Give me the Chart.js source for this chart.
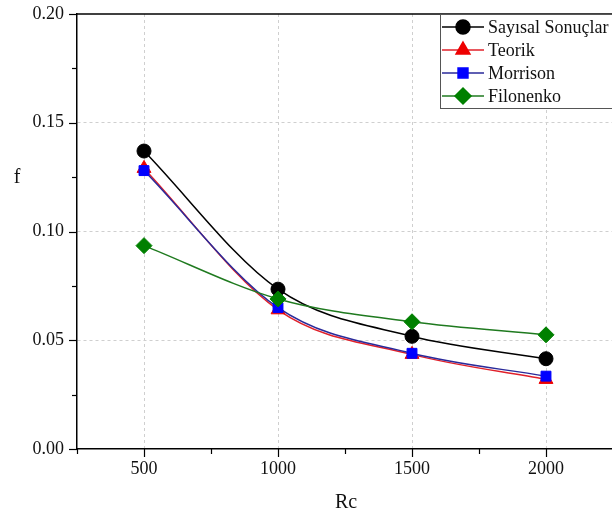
<!DOCTYPE html>
<html>
<head>
<meta charset="utf-8">
<script src="https://cdn.jsdelivr.net/npm/chart.js@4.4.1/dist/chart.umd.min.js"></script>
<style>
    html, body { margin: 0; padding: 0; background: #fff; overflow: hidden; }
    #wrap { width: 612px; height: 515px; overflow: hidden; }
</style>
</head>
<body>
<div id="wrap"><canvas id="fChart" width="622" height="515"></canvas></div>
<script>
    // Reynolds numbers on the x axis
    var reValues = [500, 1000, 1500, 2000];

    // friction factor f for each source
    var sayisal = [0.137, 0.0735, 0.0518, 0.0415];
    var teorik = [0.129, 0.064, 0.0435, 0.032];
    var morrison = [0.128, 0.065, 0.044, 0.0335];
    var filonenko = [0.0935, 0.069, 0.0585, 0.0525];

    var yTickLabels = ['0.00', '0.05', '0.10', '0.15', '0.20'];
    var xTickLabels = ['500', '1000', '1500', '2000'];

    var serif = '"Liberation Serif", "Times New Roman", serif';

    function pts(vals) {
        return vals.map((v, i) => ({ x: reValues[i], y: v }));
    }

    function isMajor(v, step) {
        return Math.abs(v / step - Math.round(v / step)) < 1e-6;
    }

    // frame, tick marks, axis titles and the boxed legend
    var decorPlugin = {
        id: 'decor',
        afterDraw(chart) {
            var ctx = chart.ctx;
            var a = chart.chartArea;
            var xs = chart.scales.x, ys = chart.scales.y;
            ctx.save();
            ctx.strokeStyle = '#000';
            ctx.lineWidth = 1.5;
            ctx.beginPath();
            ctx.moveTo(a.left, a.top);
            ctx.lineTo(a.right, a.top);
            ctx.stroke();

            ctx.lineWidth = 1.2;
            for (var v = 0; v <= 0.2001; v += 0.025) {
                var y = Math.round(ys.getPixelForValue(v)) + 0.5;
                var len = isMajor(v, 0.05) ? 8 : 5;
                ctx.beginPath();
                ctx.moveTo(a.left - len, y);
                ctx.lineTo(a.left, y);
                ctx.stroke();
            }
            for (var r = 250; r <= 2250; r += 250) {
                var x = Math.round(xs.getPixelForValue(r)) + 0.5;
                var l2 = isMajor(r, 500) ? 8 : 5;
                ctx.beginPath();
                ctx.moveTo(x, a.bottom);
                ctx.lineTo(x, a.bottom + l2);
                ctx.stroke();
            }

            ctx.fillStyle = '#111';
            ctx.font = '20px ' + serif;
            ctx.textAlign = 'center';
            ctx.textBaseline = 'middle';
            ctx.fillText('f', 17, 178);
            ctx.fillText('Rc', 346, 503);

            // legend box
            var bx = 440, by = 14, bw = 200, bh = 94;
            ctx.fillStyle = '#fff';
            ctx.fillRect(bx, by, bw, bh);
            ctx.strokeStyle = '#555';
            ctx.lineWidth = 1;
            ctx.strokeRect(bx + 0.5, by + 0.5, bw, bh);
            var rows = [27, 50, 73, 96];
            chart.data.datasets.forEach((ds, i) => {
                var y = rows[i];
                ctx.strokeStyle = ds.borderColor;
                ctx.lineWidth = 1.5;
                ctx.beginPath();
                ctx.moveTo(bx + 2, y);
                ctx.lineTo(bx + 44, y);
                ctx.stroke();
                ctx.fillStyle = ds.pointBackgroundColor;
                ctx.strokeStyle = ds.pointBackgroundColor;
                Chart.helpers.drawPoint(ctx, {
                    pointStyle: ds.pointStyle,
                    radius: ds.pointRadius,
                    rotation: 0,
                    borderWidth: 1
                }, bx + 23, y);
                ctx.fillStyle = '#111';
                ctx.font = '18px ' + serif;
                ctx.textAlign = 'left';
                ctx.fillText(ds.label, bx + 48, y + 1);
            });
            ctx.restore();
        }
    };

    function series(label, data, line, fill, style, radius, order) {
        return {
            label: label,
            data: pts(data),
            borderColor: line,
            borderWidth: 1.5,
            backgroundColor: fill,
            pointBackgroundColor: fill,
            pointBorderColor: fill,
            pointBorderWidth: 1,
            pointStyle: style,
            pointRadius: radius,
            tension: 0.4,
            cubicInterpolationMode: 'monotone',
            order: order
        };
    }

    new Chart(document.getElementById('fChart').getContext('2d'), {
        type: 'line',
        data: {
            datasets: [
                series('Sayısal Sonuçlar', sayisal, '#000000', '#000000', 'circle', 7, 2),
                series('Teorik', teorik, '#e0202a', '#ee0000', 'triangle', 8, 4),
                series('Morrison', morrison, '#2a2a9a', '#0000ff', 'rect', 7, 3),
                series('Filonenko', filonenko, '#1f7a1f', '#008000', 'rectRot', 8, 1)
            ]
        },
        options: {
            responsive: false,
            animation: false,
            layout: { padding: { top: 14, right: 6, left: 0, bottom: 0 } },
            plugins: { legend: { display: false }, tooltip: { enabled: false } },
            scales: {
                x: {
                    type: 'linear',
                    min: 250,
                    max: 2250,
                    afterFit(scale) {
                        scale.height = 66;
                        scale.paddingLeft = 0;
                        scale.paddingRight = 0;
                    },
                    afterBuildTicks(scale) {
                        scale.ticks = xTickLabels.map(t => ({ value: Number(t) }));
                    },
                    ticks: {
                        padding: 9,
                        color: '#111',
                        font: { family: serif, size: 18 },
                        callback: v => xTickLabels.includes(String(v)) ? String(v) : ''
                    },
                    grid: { drawTicks: false, color: '#cfcfcf', lineWidth: 1 },
                    border: { display: true, color: '#000', width: 1.5, dash: [3, 3] }
                },
                y: {
                    type: 'linear',
                    min: 0,
                    max: 0.2,
                    afterFit(scale) {
                        scale.width = 77;
                        scale.paddingTop = 0;
                        scale.paddingBottom = 0;
                    },
                    afterBuildTicks(scale) {
                        scale.ticks = yTickLabels.map(t => ({ value: Number(t) }));
                    },
                    ticks: {
                        padding: 13,
                        color: '#111',
                        font: { family: serif, size: 18 },
                        callback: v => v.toFixed(2)
                    },
                    grid: {
                        drawTicks: false,
                        color: ctx => (ctx.tick && (ctx.tick.value === 0 || ctx.tick.value >= 0.2)) ? 'rgba(0,0,0,0)' : '#cfcfcf',
                        lineWidth: 1
                    },
                    border: { display: true, color: '#000', width: 1.5, dash: [3, 3] }
                }
            }
        },
        plugins: [decorPlugin]
    });
</script>
</body>
</html>
